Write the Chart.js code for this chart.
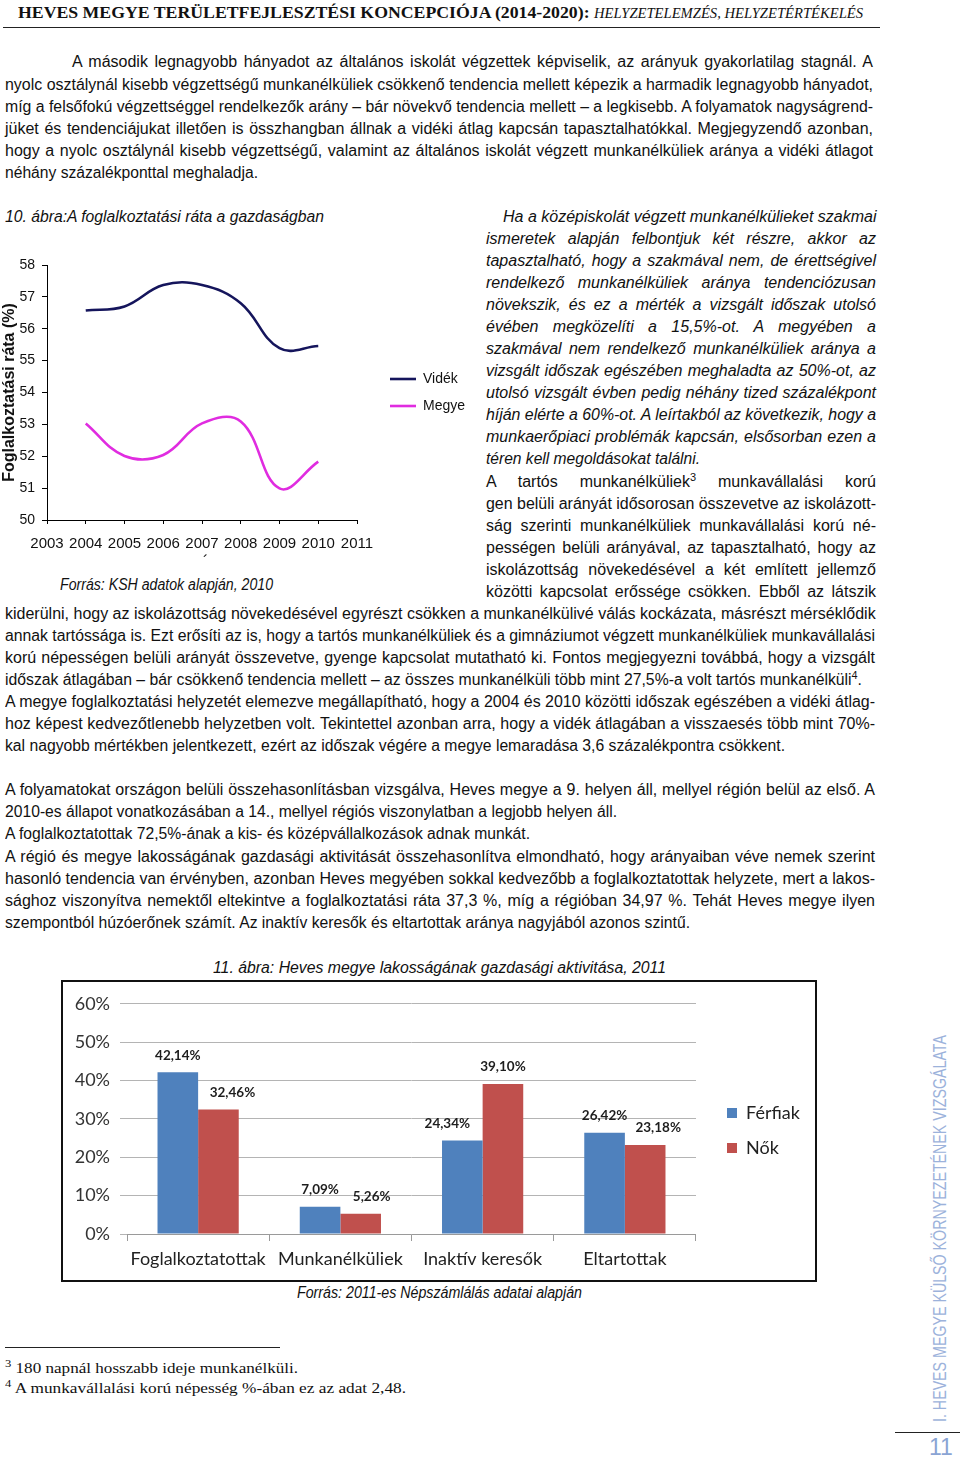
<!DOCTYPE html>
<html>
<head>
<meta charset="utf-8">
<script src="https://cdn.jsdelivr.net/npm/chart.js@4.4.0/dist/chart.umd.min.js"></script>
<style>
body { margin: 0; background: #fff; }
#page { position: relative; width: 960px; height: 1459px; overflow: hidden; background: #fff;
  font-family: "Liberation Sans Narrow", "Arial Narrow", sans-serif; color: #111; }
.ln { position: absolute; white-space: nowrap; font-size: 16px; line-height: 22px; transform-origin: 0 50%; }
.it { font-style: italic; }
.ln sup { font-size: 11px; line-height: 0; vertical-align: 6px; }
.serif { font-family: "Liberation Serif", "Times New Roman", serif; font-size: 15px; }
#hdr { position: absolute; left: 18px; top: 3px; white-space: nowrap; transform-origin: 0 50%;
  font-family: "Liberation Serif", "Times New Roman", serif; font-weight: bold; font-size: 17px; line-height: 20px; }
#hdr i { font-weight: normal; font-size: 14px; }
.rule { position: absolute; height: 1px; background: #222; }
#side { position: absolute; left: 929px; top: 1422px; white-space: nowrap; transform-origin: 0 0;
  font-size: 18px; line-height: 22px; color: #9cb2db; }
#pnum { position: absolute; left: 929px; top: 1434px; font-size: 23px; line-height: 26px; color: #8aa4d4; }
#c1 { position: absolute; left: 0; top: 245px; }
#frame2 { position: absolute; left: 61px; top: 980px; width: 752px; height: 298px; border: 2px solid #111; }
#c2 { position: absolute; left: 64px; top: 983px; }
</style>
</head>
<body>
<div id="page">
  <div id="hdr">HEVES MEGYE TERÜLETFEJLESZTÉSI KONCEPCIÓJA (2014-2020): <i>HELYZETELEMZÉS, HELYZETÉRTÉKELÉS</i></div>
  <div class="rule" style="left:3px;top:27px;width:877px;"></div>
  <canvas id="c1" width="480" height="320"></canvas>
  <div id="frame2"></div>
  <canvas id="c2" width="749" height="295"></canvas>
  <div class="rule" style="left:5px;top:1347px;width:275px;"></div>
  <div class="rule" style="left:895px;top:1432px;width:65px;"></div>
  <div id="side">I. HEVES MEGYE KÜLSŐ KÖRNYEZETÉNEK VIZSGÁLATA</div>
  <div id="pnum">11</div>
</div>
<script>
// 10. ábra: foglalkoztatási ráta
var years = [2004, 2005, 2006, 2007, 2008, 2009, 2010];
var videk = [56.57, 56.7, 57.37, 57.37, 56.8, 55.39, 55.46];
var megye = [53.03, 52.01, 52.04, 53.03, 53.09, 50.99, 51.83];

// 11. ábra: gazdasági aktivitás, 2011
var categories = ['Foglalkoztatottak', 'Munkanélküliek', 'Inaktív keresők', 'Eltartottak'];
var ferfiak = [42.14, 7.09, 24.34, 26.42];
var nok = [32.46, 5.26, 39.10, 23.18];

var narrow = '"Liberation Sans Narrow", "Arial Narrow", sans-serif';
var page = document.getElementById('page');

// text lines: x, y (middle), right edge, mode (j = justify, s = scale to width), html, class
var lines = [
  [72, 62, 873, 'j', 'A második legnagyobb hányadot az általános iskolát végzettek képviselik, az arányuk gyakorlatilag stagnál. A'],
  [5, 85, 873, 'j', 'nyolc osztálynál kisebb végzettségű munkanélküliek csökkenő tendencia mellett képezik a harmadik legnagyobb hányadot,'],
  [5, 107, 873, 'j', 'míg a felsőfokú végzettséggel rendelkezők arány – bár növekvő tendencia mellett – a legkisebb. A folyamatok nagyságrend-'],
  [5, 129, 873, 'j', 'jüket és tendenciájukat illetően is összhangban állnak a vidéki átlag kapcsán tapasztalhatókkal. Megjegyzendő azonban,'],
  [5, 151, 873, 'j', 'hogy a nyolc osztálynál kisebb végzettségű, valamint az általános iskolát végzett munkanélküliek aránya a vidéki átlagot'],
  [5, 173, 258, 's', 'néhány százalékponttal meghaladja.'],
  [5, 217, 324, 's', '10. ábra:A foglalkoztatási ráta a gazdaságban', 'it'],
  [503, 217, 876, 'j', 'Ha a középiskolát végzett munkanélkülieket szakmai', 'it'],
  [486, 239, 876, 'j', 'ismeretek alapján felbontjuk két részre, akkor az', 'it'],
  [486, 261, 876, 'j', 'tapasztalható, hogy a szakmával nem, de érettségivel', 'it'],
  [486, 283, 876, 'j', 'rendelkező munkanélküliek aránya tendenciózusan', 'it'],
  [486, 305, 876, 'j', 'növekszik, és ez a mérték a vizsgált időszak utolsó', 'it'],
  [486, 327, 876, 'j', 'évében megközelíti a 15,5%-ot. A megyében a', 'it'],
  [486, 349, 876, 'j', 'szakmával nem rendelkező munkanélküliek aránya a', 'it'],
  [486, 371, 876, 'j', 'vizsgált időszak egészében meghaladta az 50%-ot, az', 'it'],
  [486, 393, 876, 'j', 'utolsó vizsgált évben pedig néhány tized százalékpont', 'it'],
  [486, 415, 876, 'j', 'híján elérte a 60%-ot. A leírtakból az következik, hogy a', 'it'],
  [486, 437, 876, 'j', 'munkaerőpiaci problémák kapcsán, elsősorban ezen a', 'it'],
  [486, 459, 700, 's', 'téren kell megoldásokat találni.', 'it'],
  [486, 482, 876, 'j', 'A tartós munkanélküliek<sup>3</sup> munkavállalási korú'],
  [486, 504, 876, 'j', 'gen belüli arányát idősorosan összevetve az iskolázott-'],
  [486, 526, 876, 'j', 'ság szerinti munkanélküliek munkavállalási korú né-'],
  [486, 548, 876, 'j', 'pességen belüli arányával, az tapasztalható, hogy az'],
  [486, 570, 876, 'j', 'iskolázottság növekedésével a két említett jellemző'],
  [486, 592, 876, 'j', 'közötti kapcsolat erőssége csökken. Ebből az látszik'],
  [60, 585, 273, 's', 'Forrás: KSH adatok alapján, 2010', 'it'],
  [203, 562, 0, '', '´'],
  [5, 614, 875, 'j', 'kiderülni, hogy az iskolázottság növekedésével egyrészt csökken a munkanélkülivé válás kockázata, másrészt mérséklődik'],
  [5, 636, 875, 'j', 'annak tartóssága is. Ezt erősíti az is, hogy a tartós munkanélküliek és a gimnáziumot végzett munkanélküliek munkavállalási'],
  [5, 658, 875, 'j', 'korú népességen belüli arányát összevetve, gyenge kapcsolat mutatható ki. Fontos megjegyezni továbbá, hogy a vizsgált'],
  [5, 680, 862, 's', 'időszak átlagában – bár csökkenő tendencia mellett – az összes munkanélküli több mint 27,5%-a volt tartós munkanélküli<sup>4</sup>.'],
  [5, 702, 875, 'j', 'A megye foglalkoztatási helyzetét elemezve megállapítható, hogy a 2004 és 2010 közötti időszak egészében a vidéki átlag-'],
  [5, 724, 875, 'j', 'hoz képest kedvezőtlenebb helyzetben volt. Tekintettel azonban arra, hogy a vidék átlagában a visszaesés több mint 70%-'],
  [5, 746, 785, 's', 'kal nagyobb mértékben jelentkezett, ezért az időszak végére a megye lemaradása 3,6 százalékpontra csökkent.'],
  [5, 790, 875, 'j', 'A folyamatokat országon belüli összehasonlításban vizsgálva, Heves megye a 9. helyen áll, mellyel régión belül az első. A'],
  [5, 812, 617, 's', '2010-es állapot vonatkozásában a 14., mellyel régiós viszonylatban a legjobb helyen áll.'],
  [5, 834, 530, 's', 'A foglalkoztatottak 72,5%-ának a kis- és középvállalkozások adnak munkát.'],
  [5, 857, 875, 'j', 'A régió és megye lakosságának gazdasági aktivitását összehasonlítva elmondható, hogy arányaiban véve nemek szerint'],
  [5, 879, 875, 'j', 'hasonló tendencia van érvényben, azonban Heves megyében sokkal kedvezőbb a foglalkoztatottak helyzete, mert a lakos-'],
  [5, 901, 875, 'j', 'sághoz viszonyítva nemektől eltekintve a foglalkoztatási ráta 37,3 %, míg a régióban 34,97 %. Tehát Heves megye ilyen'],
  [5, 923, 690, 's', 'szempontból húzóerőnek számít. Az inaktív keresők és eltartottak aránya nagyjából azonos szintű.'],
  [213, 968, 666, 's', '11. ábra: Heves megye lakosságának gazdasági aktivitása, 2011', 'it'],
  [297, 1293, 582, 's', 'Forrás: 2011-es Népszámlálás adatai alapján', 'it'],
  [5, 1368, 298, 's', '<sup>3</sup> 180 napnál hosszabb ideje munkanélküli.', 'serif'],
  [5, 1388, 406, 's', '<sup>4</sup> A munkavállalási korú népesség %-ában ez az adat 2,48.', 'serif']
];

lines.forEach(function (l) {
  var d = document.createElement('div');
  d.className = 'ln ' + (l[5] || '');
  d.style.left = l[0] + 'px';
  d.style.top = (l[1] - 11) + 'px';
  d.innerHTML = l[4];
  page.appendChild(d);
  var w = l[2] - l[0];
  var nat = d.getBoundingClientRect().width;
  var spaces = (d.textContent.match(/ /g) || []).length;
  if (l[3] == 'j' && nat < w && spaces) {
    d.style.wordSpacing = ((w - nat) / spaces) + 'px';
  } else if (l[3] && Math.abs(nat - w) > 1) {
    d.style.transform = 'scaleX(' + (w / nat) + ')';
  }
});

// header and side text fitted to their widths
var hdr = document.getElementById('hdr');
hdr.style.transform = 'scaleX(' + (845 / hdr.getBoundingClientRect().width) + ')';
var side = document.getElementById('side');
side.style.transform = 'rotate(-90deg) scaleX(' + (387 / side.getBoundingClientRect().width) + ')';

// move the plot's right edge to a given x by changing the right padding
function pinRight(chart, x) {
  chart.options.layout.padding.right += chart.chartArea.right - x;
  chart.update();
}

// chart 1
var chart1 = new Chart(document.getElementById('c1'), {
  type: 'line',
  data: {
    datasets: [
      {
        label: 'Vidék',
        data: years.map(function (y, i) { return { x: y, y: videk[i] }; }),
        borderColor: '#15155c',
        borderWidth: 2.6,
        pointRadius: 0,
        pointStyle: 'line',
        tension: 0.4,
        fill: false
      },
      {
        label: 'Megye',
        data: years.map(function (y, i) { return { x: y, y: megye[i] }; }),
        borderColor: '#e02ce0',
        borderWidth: 2.6,
        pointRadius: 0,
        pointStyle: 'line',
        tension: 0.4,
        fill: false
      }
    ]
  },
  options: {
    responsive: false,
    animation: false,
    layout: { padding: { left: 0, top: 20, right: 10, bottom: 0 } },
    plugins: {
      tooltip: { enabled: false },
      legend: {
        position: 'right',
        fullSize: false,
        labels: {
          usePointStyle: true,
          pointStyle: 'line',
          pointStyleWidth: 26,
          padding: 13,
          color: '#111',
          font: { family: narrow, size: 14 }
        }
      }
    },
    scales: {
      x: {
        type: 'linear',
        min: 2003,
        max: 2011,
        ticks: { stepSize: 1, autoSkip: false, maxRotation: 0, padding: 11, color: '#111',
          font: { family: narrow, size: 15 },
          callback: function (v) { return String(v); } },
        grid: { drawOnChartArea: false, tickLength: 4, color: '#000' },
        border: { color: '#000', width: 1 },
        afterFit: function (s) { s.height = 45; }
      },
      y: {
        min: 50,
        max: 58,
        ticks: { stepSize: 1, padding: 7, color: '#111', font: { family: narrow, size: 14 } },
        grid: { drawOnChartArea: false, tickLength: 5, color: '#000' },
        border: { color: '#000', width: 1 },
        title: { display: true, text: 'Foglalkoztatási ráta (%)', color: '#111', padding: 0,
          font: { family: '"Liberation Sans", Arial, sans-serif', size: 16, weight: 'bold' } },
        afterFit: function (s) { s.width = 47; }
      },
      // hidden spacer between the plot and the legend
      y2: {
        display: false,
        position: 'right',
        afterFit: function (s) { s.width = 20; }
      }
    }
  }
});
pinRight(chart1, 357);

// value labels above the bars, with the small sideways shifts of the original
var barLabels = {
  id: 'barLabels',
  afterDatasetsDraw: function (chart, args, opts) {
    var ctx = chart.ctx;
    ctx.save();
    ctx.font = 'bold 13.5px Lato, sans-serif';
    ctx.fillStyle = '#1e1e1e';
    ctx.textAlign = 'center';
    ctx.textBaseline = 'middle';
    chart.data.datasets.forEach(function (ds, i) {
      chart.getDatasetMeta(i).data.forEach(function (bar, j) {
        var dx = opts.shift[i][j];
        ctx.fillText(ds.data[j].toFixed(2).replace('.', ',') + '%', bar.x + dx, bar.y - 17);
      });
    });
    ctx.restore();
  }
};

// chart 2
var chart2 = new Chart(document.getElementById('c2'), {
  type: 'bar',
  data: {
    labels: categories,
    datasets: [
      { label: 'Férfiak', data: ferfiak, backgroundColor: '#4f81bd', barPercentage: 1, categoryPercentage: 0.571 },
      { label: 'Nők', data: nok, backgroundColor: '#c0504d', barPercentage: 1, categoryPercentage: 0.571 }
    ]
  },
  plugins: [barLabels],
  options: {
    responsive: false,
    animation: false,
    layout: { padding: { left: 0, top: 0, right: 20, bottom: 0 } },
    plugins: {
      tooltip: { enabled: false },
      barLabels: { shift: [[0, 0, -15, 0], [14, 11, 0, 13]] },
      legend: {
        position: 'right',
        labels: { boxWidth: 10, boxHeight: 10, padding: 17, color: '#222', font: { family: 'Lato, sans-serif', size: 18 } }
      }
    },
    scales: {
      x: {
        ticks: { padding: 7, color: '#222', font: { family: 'Lato, sans-serif', size: 18 } },
        grid: { drawOnChartArea: false, offset: true, tickLength: 7, color: '#9a9a9a' },
        border: { color: '#9a9a9a' },
        afterFit: function (s) { s.height = 44; }
      },
      x2: {
        type: 'linear',
        position: 'top',
        ticks: { display: false },
        grid: { display: false },
        border: { display: false },
        afterFit: function (s) { s.height = 19; }
      },
      y: {
        min: 0,
        max: 60,
        ticks: { stepSize: 10, padding: 10, color: '#333', font: { family: 'Lato, sans-serif', size: 18 },
          callback: function (v) { return v + '%'; } },
        grid: { color: '#b4b4b4', tickLength: 7 },
        border: { display: false },
        afterFit: function (s) { s.width = 63; }
      },
      y2: {
        position: 'right',
        ticks: { display: false },
        grid: { display: false },
        border: { display: false },
        afterFit: function (s) { s.width = 14; }
      }
    }
  }
});
pinRight(chart2, 632);
</script>
</body>
</html>
